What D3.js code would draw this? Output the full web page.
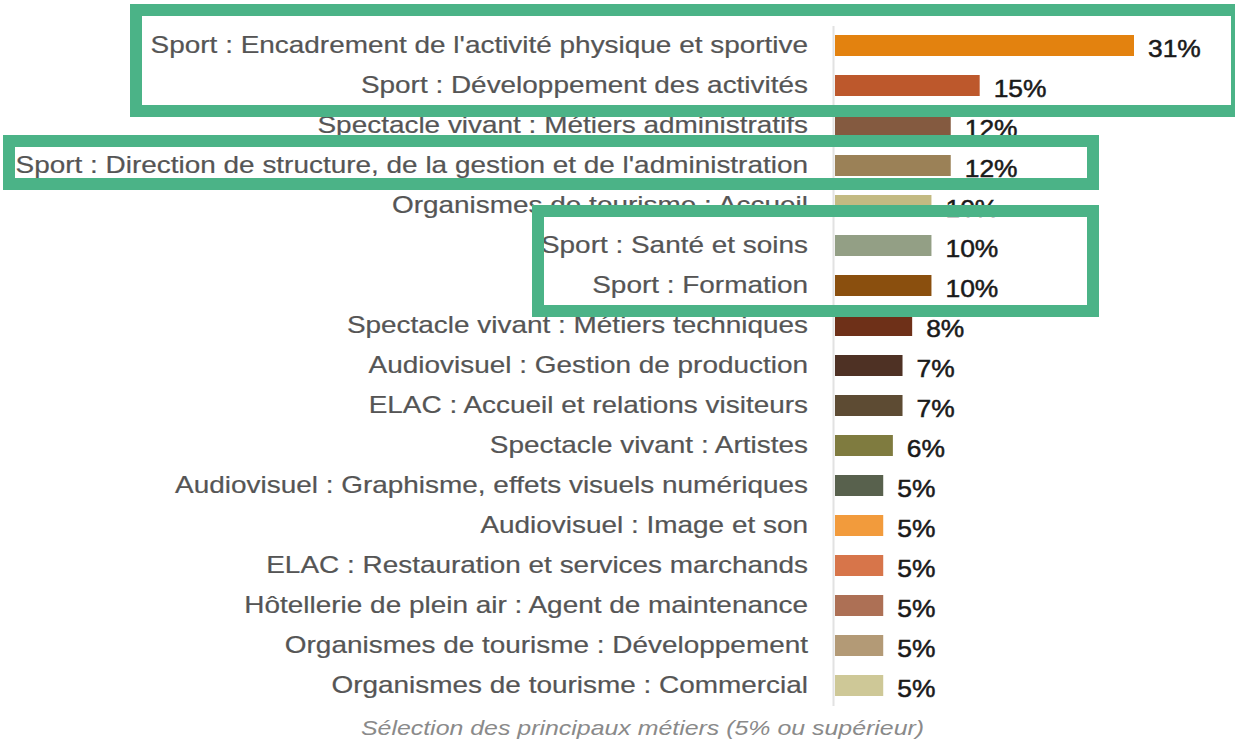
<!DOCTYPE html>
<html lang="fr">
<head>
<meta charset="utf-8">
<script src="https://cdn.jsdelivr.net/npm/d3@7"></script>
<style>
  html, body { margin: 0; padding: 0; background: #fff; }
  svg { display: block; }
</style>
</head>
<body>
<svg id="chart" width="1235" height="742"></svg>
<script>
// Métiers (share of job offers, %)
const categories = [
  "Sport : Encadrement de l'activité physique et sportive",
  "Sport : Développement des activités",
  "Spectacle vivant : Métiers administratifs",
  "Sport : Direction de structure, de la gestion et de l'administration",
  "Organismes de tourisme : Accueil",
  "Sport : Santé et soins",
  "Sport : Formation",
  "Spectacle vivant : Métiers techniques",
  "Audiovisuel : Gestion de production",
  "ELAC : Accueil et relations visiteurs",
  "Spectacle vivant : Artistes",
  "Audiovisuel : Graphisme, effets visuels numériques",
  "Audiovisuel : Image et son",
  "ELAC : Restauration et services marchands",
  "Hôtellerie de plein air : Agent de maintenance",
  "Organismes de tourisme : Développement",
  "Organismes de tourisme : Commercial"
];
const values = [31, 15, 12, 12, 10, 10, 10, 8, 7, 7, 6, 5, 5, 5, 5, 5, 5];
const barColors = [
  "#e3820f", "#bd582c", "#845a40", "#9b8157", "#c3ba82", "#939f85",
  "#8a4f0e", "#6e3018", "#4e3124", "#5d4b33", "#7f7b3f", "#58614d",
  "#f29b3c", "#d7754a", "#ad7055", "#b39a76", "#cec897"
];
const caption = "Sélection des principaux métiers (5% ou supérieur)";
// Highlighted groups of rows (first and last category of each frame)
const highlightGroups = [
  ["Sport : Encadrement de l'activité physique et sportive", "Sport : Développement des activités"],
  ["Sport : Direction de structure, de la gestion et de l'administration", "Sport : Direction de structure, de la gestion et de l'administration"],
  ["Sport : Santé et soins", "Sport : Formation"]
];

const svg = d3.select("#chart");
const FONT = "'Liberation Sans', Arial, Helvetica, sans-serif";
const STRETCH = 1.215;

const x = d3.scaleLinear().domain([0, 31]).range([835, 1134]);
const y = d3.scalePoint().domain(categories).range([45.5, 685.5]);
const barH = 21;

// baseline axis
svg.append("line")
  .attr("x1", 833.5).attr("x2", 833.5)
  .attr("y1", 26).attr("y2", 706)
  .attr("stroke", "#e2e2e2").attr("stroke-width", 2);

// bars
svg.append("g").selectAll("rect")
  .data(categories)
  .join("rect")
  .attr("x", x(0))
  .attr("y", d => y(d) - barH / 2)
  .attr("width", (d, i) => x(values[i]) - x(0))
  .attr("height", barH)
  .attr("fill", (d, i) => barColors[i]);

// category labels
svg.append("g").selectAll("text")
  .data(categories)
  .join("text")
  .attr("transform", d => `translate(808,${y(d) + 7.5}) scale(${STRETCH},1)`)
  .attr("text-anchor", "end")
  .attr("font-family", FONT)
  .attr("font-size", 23)
  .attr("fill", "#555")
  .attr("stroke", "#555")
  .attr("stroke-width", 0.2)
  .text(d => d);

// value labels
svg.append("g").selectAll("text")
  .data(categories)
  .join("text")
  .attr("transform", (d, i) => `translate(${x(values[i]) + 14},${y(d) + 11}) scale(1.1,1)`)
  .attr("font-family", FONT)
  .attr("font-size", 24)
  .attr("fill", "#1a1a1a")
  .attr("stroke", "#1a1a1a")
  .attr("stroke-width", 0.5)
  .text((d, i) => values[i] + "%");

// caption
svg.append("text")
  .attr("transform", `translate(642.5,735) scale(${STRETCH},1)`)
  .attr("text-anchor", "middle")
  .attr("font-family", FONT)
  .attr("font-style", "italic")
  .attr("font-size", 20.5)
  .attr("fill", "#8a8a8a")
  .text(caption);

// highlight frames: horizontal extent and padding above first / below last row
const frames = [
  { x0: 136, x1: 1237, top: 35.5, bottom: 25.5 },
  { x0: 9,   x1: 1093, top: 24.5, bottom: 18.5 },
  { x0: 538, x1: 1093, top: 34.5, bottom: 25.5 }
];
svg.append("g").selectAll("rect")
  .data(highlightGroups)
  .join("rect")
  .attr("x", (g, i) => frames[i].x0)
  .attr("width", (g, i) => frames[i].x1 - frames[i].x0)
  .attr("y", (g, i) => y(g[0]) - frames[i].top)
  .attr("height", (g, i) => y(g[1]) - y(g[0]) + frames[i].top + frames[i].bottom)
  .attr("fill", "none")
  .attr("stroke", "#4bb387")
  .attr("stroke-width", 12);
</script>
</body>
</html>
